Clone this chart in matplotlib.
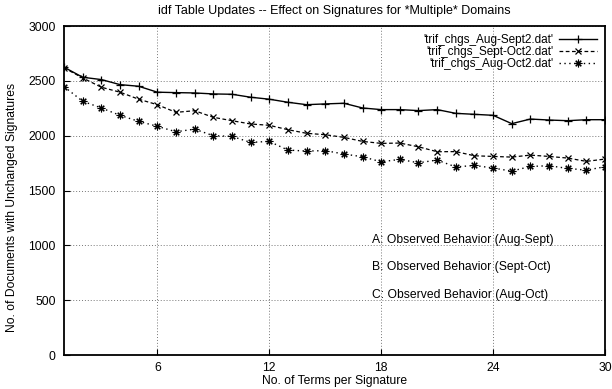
import matplotlib
matplotlib.use("Agg")
import matplotlib.pyplot as plt

plt.rcParams['font.family'] = ['Liberation Sans', 'DejaVu Sans']
plt.rcParams['font.size'] = 9

# terms per signature
terms = list(range(1, 31))

# Aug-Sept
aug_sept = [2625, 2533, 2512, 2466, 2451, 2397, 2393, 2390, 2381, 2378,
            2351, 2333, 2305, 2283, 2290, 2296, 2253, 2238, 2238, 2229,
            2238, 2204, 2195, 2186, 2110, 2152, 2143, 2137, 2146, 2146]
# Sept-Oct
sept_oct = [2619, 2527, 2442, 2397, 2333, 2283, 2213, 2228, 2168, 2137,
            2107, 2095, 2055, 2022, 2009, 1985, 1948, 1930, 1933, 1899,
            1854, 1855, 1817, 1811, 1805, 1823, 1811, 1796, 1766, 1787]
# Aug-Oct
aug_oct = [2448, 2314, 2253, 2186, 2131, 2086, 2036, 2060, 2000, 1994,
           1939, 1948, 1869, 1860, 1864, 1833, 1808, 1762, 1784, 1753,
           1778, 1715, 1729, 1705, 1677, 1720, 1726, 1702, 1686, 1717]

labels = ["'trif_chgs_Aug-Sept2.dat'", "'trif_chgs_Sept-Oct2.dat'", "'trif_chgs_Aug-Oct2.dat'"]
notes = ["A: Observed Behavior (Aug-Sept)", "B: Observed Behavior (Sept-Oct)", "C: Observed Behavior (Aug-Oct)"]
note_y = [1050, 800, 550]

xticks = [6, 12, 18, 24, 30]
yticks = [0, 500, 1000, 1500, 2000, 2500, 3000]

fig = plt.figure(figsize=(6.12, 3.89), dpi=100)
ax = fig.add_axes([0.1046, 0.0874, 0.8840, 0.8456])

ax.plot(terms, aug_sept, '-', color='black', lw=1, marker='+', ms=6, mew=0.9, label=labels[0])
ax.plot(terms, sept_oct, '--', color='black', lw=0.9, marker='x', ms=4.5, mew=0.9,
        dashes=(3, 2), label=labels[1])
ax.plot(terms, aug_oct, ':', color='black', lw=1, marker=(8, 2, 0), ms=5.5, mew=0.8,
        dashes=(1, 2.5), label=labels[2])

for t, yv in zip(notes, note_y):
    ax.text(17.5, yv, t, va='center', ha='left', fontsize=8.7)

ax.set_xlim(1, 30)
ax.set_ylim(0, 3000)
ax.set_xticks(xticks)
ax.set_yticks(yticks)
ax.tick_params(direction='in', length=4, width=0.8, labelsize=8.7)
ax.tick_params(axis='x', pad=5)
ax.tick_params(axis='y', pad=6)
ax.grid(True, linestyle=(0, (1, 2)), color='#777777', linewidth=0.7)
for s in ax.spines.values():
    s.set_linewidth(1.3)

ax.set_title("idf Table Updates -- Effect on Signatures for *Multiple* Domains", fontsize=9, pad=9)
ax.set_xlabel("No. of Terms per Signature", fontsize=8.7, labelpad=1)
ax.set_ylabel("No. of Documents with Unchanged Signatures", fontsize=8.7)
ax.yaxis.set_label_coords(-0.085, 0.45)

leg = ax.legend(loc='upper right', frameon=False, markerfirst=False, handlelength=3.2,
                handletextpad=0.5, labelspacing=0.0, borderaxespad=0.3, fontsize=8.5)

fig.savefig('out.png', dpi=100)
